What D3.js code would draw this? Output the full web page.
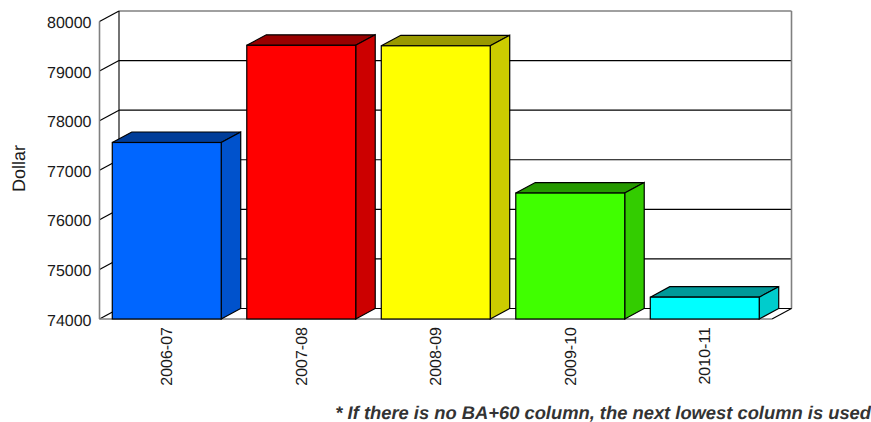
<!DOCTYPE html>
<html>
<head>
<meta charset="utf-8">
<script src="https://cdn.jsdelivr.net/npm/d3@7/dist/d3.min.js"></script>
<style>
html, body { margin: 0; padding: 0; background: #fff; }
svg { display: block; text-rendering: geometricPrecision; }
text { font-family: "Liberation Sans", Arial, sans-serif; fill: #1a1a1a; }
</style>
</head>
<body>
<div id="chart"></div>
<script>
// Chart data
const categories = ["2006-07", "2007-08", "2008-09", "2009-10", "2010-11"];
const dollars = [77560, 79520, 79510, 76540, 74440];
const faceColors = ["#0066ff", "#ff0000", "#ffff00", "#40ff00", "#00ffff"];
const yTicks = [74000, 75000, 76000, 77000, 78000, 79000, 80000];
const yLabel = "Dollar";
const footnote = "* If there is no BA+60 column, the next lowest column is used";

// Frame of the pseudo-3D plot
const W = 871, H = 422;
const plotLeft = 99.5, plotRight = 772, plotTop = 21.5, plotBottom = 319;
const depthX = 19.5, depthY = 10.5;
const gray = "#808080";

const svg = d3.select("#chart").append("svg").attr("width", W).attr("height", H);

const y = d3.scaleLinear().domain([74000, 80000]).range([plotBottom, plotTop]);
const x = d3.scaleBand().domain(categories).range([plotLeft, plotRight]).paddingInner(0.19).paddingOuter(0.095);

// Back wall gridlines and left wall ticks
const walls = svg.append("g").attr("fill", "none");
yTicks.forEach(t => {
  const py = y(t);
  const isTop = t === yTicks[yTicks.length - 1];
  walls.append("line")
    .attr("x1", plotLeft).attr("y1", py)
    .attr("x2", plotLeft + depthX).attr("y2", py - depthY)
    .attr("stroke", "#000").attr("stroke-width", 1.2);
  if (t !== yTicks[0]) {
    walls.append("line")
      .attr("x1", plotLeft + depthX).attr("y1", py - depthY)
      .attr("x2", plotRight + depthX).attr("y2", py - depthY)
      .attr("stroke", isTop ? gray : "#000").attr("stroke-width", isTop ? 1.6 : 1.1);
  }
});

// Wall edges
walls.append("line")
  .attr("x1", plotLeft + depthX).attr("y1", y(80000) - depthY)
  .attr("x2", plotLeft + depthX).attr("y2", plotBottom - depthY)
  .attr("stroke", "#000").attr("stroke-width", 1.1);
walls.append("line")
  .attr("x1", plotRight + depthX).attr("y1", y(80000) - depthY)
  .attr("x2", plotRight + depthX).attr("y2", plotBottom - depthY)
  .attr("stroke", gray).attr("stroke-width", 1.6);
walls.append("line")
  .attr("x1", plotLeft).attr("y1", y(80000))
  .attr("x2", plotLeft).attr("y2", plotBottom)
  .attr("stroke", gray).attr("stroke-width", 1.6);

// Floor
walls.append("line")
  .attr("x1", plotLeft + depthX).attr("y1", plotBottom - depthY)
  .attr("x2", plotRight + depthX).attr("y2", plotBottom - depthY)
  .attr("stroke", "#000").attr("stroke-width", 1.1);
walls.append("line")
  .attr("x1", plotRight).attr("y1", plotBottom)
  .attr("x2", plotRight + depthX).attr("y2", plotBottom - depthY)
  .attr("stroke", "#000").attr("stroke-width", 1.1);
walls.append("line")
  .attr("x1", plotLeft).attr("y1", plotBottom)
  .attr("x2", plotRight).attr("y2", plotBottom)
  .attr("stroke", gray).attr("stroke-width", 1.6);

// Shade of a face colour for the side and top of a column
const shade = (c, k) => {
  const r = d3.rgb(c);
  return d3.rgb(r.r * k, r.g * k, r.b * k).formatHex();
};

// Columns: top, side, front
const bars = svg.append("g").attr("stroke", "#000").attr("stroke-width", 1.2).attr("stroke-linejoin", "miter");
categories.forEach((c, i) => {
  const x0 = x(c), x1 = x0 + x.bandwidth(), yt = y(dollars[i]);
  const g = bars.append("g");
  g.append("path")
    .attr("d", d3.line()([[x0, yt], [x0 + depthX, yt - depthY], [x1 + depthX, yt - depthY], [x1, yt]]) + "Z")
    .attr("fill", shade(faceColors[i], 0.6));
  g.append("path")
    .attr("d", d3.line()([[x1, yt], [x1 + depthX, yt - depthY], [x1 + depthX, plotBottom - depthY], [x1, plotBottom]]) + "Z")
    .attr("fill", shade(faceColors[i], 0.8));
  g.append("rect")
    .attr("x", x0).attr("y", yt)
    .attr("width", x.bandwidth()).attr("height", plotBottom - yt)
    .attr("fill", faceColors[i]);
});

// Value axis labels
const yAxis = svg.append("g")
  .attr("transform", `translate(${plotLeft},0)`)
  .call(d3.axisLeft(y).tickValues(yTicks).tickSize(0).tickPadding(8).tickFormat(d3.format("d")));
yAxis.select(".domain").remove();
yAxis.selectAll("text")
  .attr("font-size", 16)
  .attr("dy", "0.38em")
  .style("font-family", '"Liberation Sans", Arial, sans-serif')
  .attr("fill", "#1a1a1a");

// Category labels, rotated
const xAxis = svg.append("g")
  .attr("transform", `translate(0,${plotBottom})`)
  .call(d3.axisBottom(x).tickSize(0).tickPadding(0));
xAxis.select(".domain").remove();
xAxis.selectAll("text")
  .attr("font-size", 16)
  .style("font-family", '"Liberation Sans", Arial, sans-serif')
  .attr("fill", "#1a1a1a")
  .attr("text-anchor", "end")
  .attr("dy", "0.35em")
  .attr("y", 0)
  .attr("transform", "translate(0,8) rotate(-90)");

// Axis title
svg.append("text")
  .attr("transform", "translate(25,168.5) rotate(-90)")
  .attr("text-anchor", "middle")
  .attr("font-size", 18)
  .text(yLabel);

// Footnote
svg.append("text")
  .attr("x", 871).attr("y", 419)
  .attr("text-anchor", "end")
  .attr("font-size", 18.35)
  .attr("font-weight", "bold")
  .attr("font-style", "italic")
  .style("fill", "#333")
  .text(footnote);
</script>
</body>
</html>
